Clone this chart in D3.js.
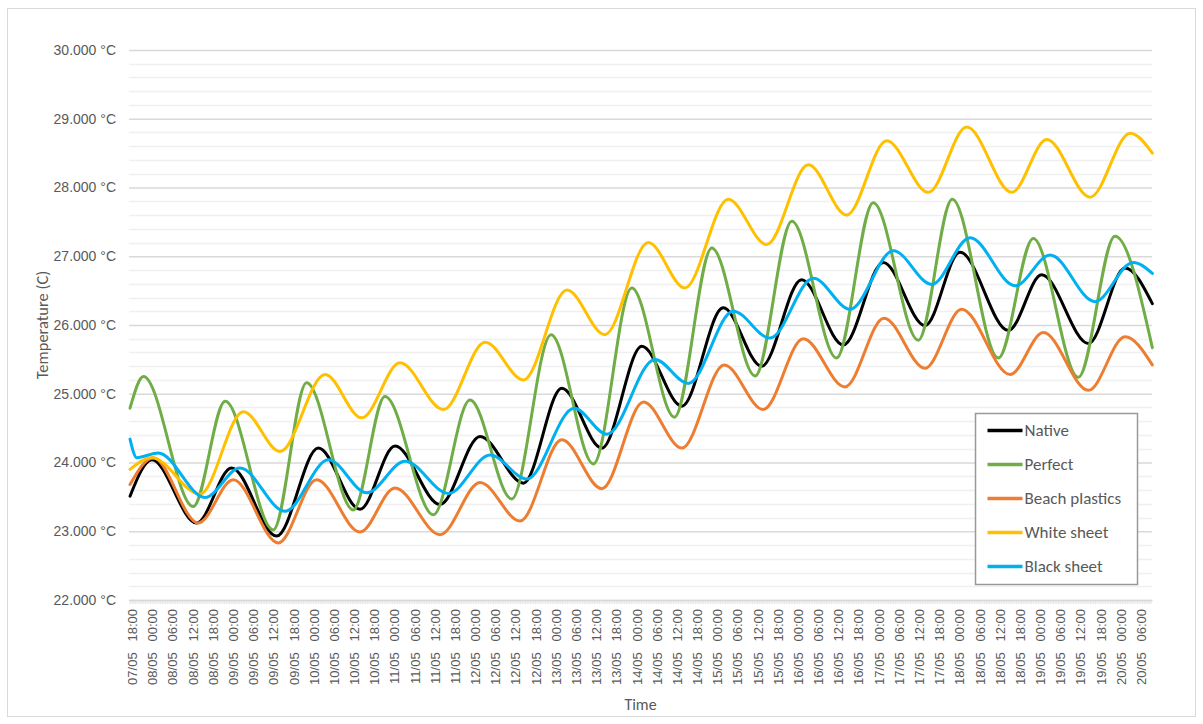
<!DOCTYPE html>
<html>
<head>
<meta charset="utf-8">
<script src="https://cdn.jsdelivr.net/npm/d3@7"></script>
<style>
  body { margin: 0; background: #fff; }
  svg { display: block; font-family: "Carlito", "Liberation Sans", Arial, sans-serif; }
  .tick text { fill: #595959; }
</style>
</head>
<body>
<svg id="chart" width="1203" height="724"></svg>
<script>
// Temperature of five surface treatments, 07/05 18:00 → 20/05 ~09:00.
// Values at each daily peak / trough, as
// [hours since 07/05 18:00, °C]; the smoothing curve fills in between.

const native = [
  [-0.6, 23.51], [5.9, 24.04], [19.2, 23.12], [29.6, 23.92], [43.0, 22.93], [55.4, 24.21],
  [67.8, 23.32], [78.2, 24.24], [91.6, 23.39], [103.5, 24.38], [116.4, 23.70], [127.8, 25.08],
  [139.7, 24.21], [151.6, 25.69], [163.5, 24.82], [175.8, 26.25], [187.2, 25.40], [199.1, 26.66],
  [211.5, 25.71], [223.4, 26.91], [235.8, 25.99], [246.2, 27.06], [260.6, 25.92], [270.5, 26.73],
  [284.4, 25.73], [295.3, 26.83], [303.4, 26.31]
];
const perfect = [
  [-0.6, 24.79], [3.4, 25.25], [18.2, 23.36], [27.7, 24.89], [42.0, 23.02], [51.9, 25.16],
  [65.8, 23.31], [75.2, 24.96], [89.6, 23.24], [100.5, 24.91], [112.9, 23.47], [124.6, 25.86],
  [137.2, 23.98], [148.6, 26.54], [161.3, 24.66], [172.4, 27.12], [185.3, 25.26], [196.2, 27.51],
  [209.5, 25.52], [220.4, 27.78], [233.8, 25.78], [243.9, 27.83], [257.6, 25.52], [268.0, 27.26],
  [281.4, 25.24], [292.3, 27.29], [303.4, 25.67]
];
const beachPlastics = [
  [-0.6, 23.68], [6.3, 24.07], [19.7, 23.12], [30.1, 23.75], [43.5, 22.83], [54.9, 23.75],
  [67.8, 22.99], [78.2, 23.63], [91.6, 22.95], [103.5, 23.71], [115.4, 23.15], [127.8, 24.33],
  [139.7, 23.62], [152.1, 24.88], [163.5, 24.21], [176.1, 25.42], [187.7, 24.77], [199.6, 25.80],
  [212.0, 25.10], [223.6, 26.10], [235.8, 25.37], [246.7, 26.23], [261.1, 25.28], [271.0, 25.89],
  [284.4, 25.05], [295.3, 25.83], [303.4, 25.42]
];
const whiteSheet = [
  [-0.6, 23.90], [5.9, 24.07], [20.2, 23.54], [33.1, 24.74], [44.0, 24.16], [57.4, 25.28],
  [68.3, 24.65], [79.7, 25.45], [92.6, 24.77], [105.0, 25.75], [116.4, 25.20], [129.3, 26.51],
  [140.6, 25.86], [153.5, 27.20], [164.4, 26.54], [177.3, 27.83], [188.7, 27.17], [201.1, 28.33],
  [212.5, 27.60], [224.4, 28.68], [236.8, 27.93], [248.2, 28.88], [261.6, 27.93], [272.0, 28.70],
  [284.9, 27.86], [296.8, 28.79], [303.4, 28.50]
];
const blackSheet = [
  [-0.6, 24.34], [1.4, 24.07], [7.8, 24.14], [21.7, 23.49], [32.1, 23.92], [45.5, 23.29],
  [58.4, 24.04], [69.8, 23.56], [81.2, 24.02], [94.1, 23.55], [106.5, 24.11], [117.4, 23.76],
  [131.5, 24.79], [141.2, 24.41], [155.5, 25.50], [165.4, 25.15], [178.8, 26.20], [189.7, 25.81],
  [202.6, 26.68], [213.5, 26.23], [226.4, 27.08], [237.8, 26.59], [249.2, 27.27], [262.6, 26.57],
  [273.0, 27.02], [286.3, 26.34], [297.7, 26.91], [303.4, 26.75]
];

const seriesNames = ["Native", "Perfect", "Beach plastics", "White sheet", "Black sheet"];
const seriesColors = ["#000000", "#70ad47", "#ed7d31", "#ffc000", "#00b0f0"];
const seriesData = [native, perfect, beachPlastics, whiteSheet, blackSheet];

const yMin = 22, yMax = 30;
const T0 = new Date(2021, 4, 7, 18); // 07/05 18:00
const at = (h) => new Date(T0.getTime() + h * 36e5);

const svg = d3.select("#chart");
const P = { l: 129, r: 1152, t: 50, b: 600 };

// frame round the whole chart
svg.append("rect")
  .attr("x", 7.5).attr("y", 8.5).attr("width", 1188).attr("height", 708)
  .attr("fill", "#fff").attr("stroke", "#d9d9d9");

const x = d3.scaleTime().domain([at(-0.9), at(303.3)]).range([P.l, P.r]);
const y = d3.scaleLinear().domain([yMin, yMax]).range([P.b, P.t]);

// ---- gridlines: minor every 0.2 °C, major every 1 °C ----
const minor = d3.range(yMin, yMax + 0.001, 0.2).filter((v) => Math.abs(v - Math.round(v)) > 0.01);
svg.append("g").selectAll("line").data(minor).join("line")
  .attr("x1", P.l).attr("x2", P.r)
  .attr("y1", (d) => Math.round(y(d)) + 0.5).attr("y2", (d) => Math.round(y(d)) + 0.5)
  .attr("stroke", "#f0f0f0").attr("stroke-width", 1.3);

const yAxis = svg.append("g").attr("transform", `translate(${P.l},0)`)
  .call(d3.axisLeft(y).tickValues(d3.range(yMin, yMax + 0.001, 1))
    .tickSize(-(P.r - P.l)).tickPadding(13)
    .tickFormat((d) => d3.format(".3f")(d) + " °C"));
yAxis.select(".domain").remove();
yAxis.selectAll(".tick line").attr("stroke", "#d9d9d9").attr("stroke-width", 1.3);
yAxis.selectAll(".tick text").attr("font-size", 14);

// ---- x axis: category tick marks + 6-hourly labels ----
svg.append("g").selectAll("line").data(d3.range(-0.5, 303.3, 0.5)).join("line")
  .attr("x1", (d) => x(at(d))).attr("x2", (d) => x(at(d)))
  .attr("y1", P.b).attr("y2", P.b + 4)
  .attr("stroke", "#d9d9d9").attr("stroke-width", 0.7);

const xAxis = svg.append("g").attr("transform", `translate(0,${P.b})`)
  .call(d3.axisBottom(x).ticks(d3.timeHour.every(6)).tickSize(0)
    .tickFormat(d3.timeFormat("%d/%m\u00a0\u00a0\u00a0%H:%M")));
xAxis.select(".domain").attr("stroke", "#d9d9d9").attr("stroke-width", 1.3);
xAxis.selectAll(".tick text")
  .attr("font-size", 13)
  .attr("text-anchor", "end")
  .attr("transform", "translate(0,9) rotate(-90)")
  .attr("x", 0).attr("y", 0).attr("dy", "0.35em");

// ---- the five series ----
const line = d3.line()
  .x((d) => x(at(d[0])))
  .y((d) => y(d[1]))
  .curve(d3.curveMonotoneX);

svg.append("g").selectAll("path").data(seriesData).join("path")
  .attr("d", line)
  .attr("fill", "none")
  .attr("stroke", (_, i) => seriesColors[i])
  .attr("stroke-width", 3)
  .attr("stroke-linejoin", "round")
  .attr("stroke-linecap", "round");

// ---- axis titles ----
svg.append("text")
  .attr("transform", `translate(48,${(P.t + P.b) / 2}) rotate(-90)`)
  .attr("text-anchor", "middle")
  .attr("font-size", 16.5).attr("fill", "#595959")
  .text("Temperature (C)");

svg.append("text")
  .attr("x", (P.l + P.r) / 2).attr("y", 710)
  .attr("text-anchor", "middle")
  .attr("font-size", 16).attr("fill", "#595959")
  .text("Time");

// ---- legend ----
const lg = svg.append("g").attr("transform", "translate(975.5,413.5)");
lg.append("rect").attr("width", 162).attr("height", 171)
  .attr("fill", "#fff").attr("stroke", "#999").attr("stroke-width", 1.5);
const row = lg.selectAll("g.row").data(seriesNames).join("g").attr("class", "row")
  .attr("transform", (_, i) => `translate(0,${17 + i * 34})`);
row.append("line").attr("x1", 12).attr("x2", 47)
  .attr("stroke", (_, i) => seriesColors[i]).attr("stroke-width", 3.5);
row.append("text").attr("x", 49).attr("dy", "0.35em")
  .attr("font-size", 17).attr("fill", "#595959")
  .text((d) => d);
</script>
</body>
</html>
